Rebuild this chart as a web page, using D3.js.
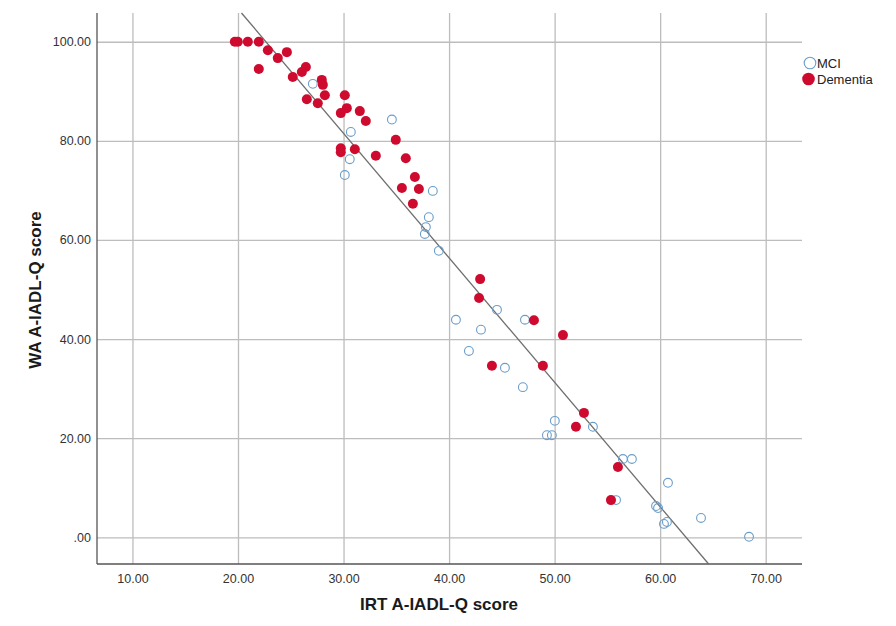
<!DOCTYPE html>
<html>
<head>
<meta charset="utf-8">
<script src="https://cdn.jsdelivr.net/npm/d3@7"></script>
<style>
  html, body { margin: 0; padding: 0; background: #ffffff; }
  svg { display: block; font-family: "Liberation Sans", Arial, sans-serif; }
</style>
</head>
<body>
<svg id="chart" width="896" height="626"></svg>
<script>
// ---------- data ----------
const seriesNames = ["MCI", "Dementia"];

const mciIRT = [27.09, 34.58, 30.69, 30.59, 30.12, 38.46, 38.08, 37.80, 37.70, 39.03,
  44.54, 40.65, 47.19, 43.02, 41.88, 45.29, 46.99, 50.02, 53.63, 49.27,
  49.74, 56.47, 57.32, 60.74, 55.82, 59.61, 59.80, 60.36, 60.64, 63.87, 68.42];
const mciWA = [91.5, 84.3, 81.8, 76.3, 73.1, 69.9, 64.6, 62.6, 61.2, 57.8,
  45.9, 43.9, 43.9, 41.9, 37.6, 34.2, 30.3, 23.5, 22.3, 20.6,
  20.6, 15.8, 15.8, 11.0, 7.5, 6.3, 5.9, 2.7, 3.1, 3.9, 0.1];

const demIRT = [19.70, 19.98, 20.93, 21.97, 22.83, 23.77, 24.63, 21.97, 26.43, 26.05,
  25.19, 27.94, 28.04, 28.23, 26.52, 27.56, 30.12, 30.31, 29.74, 31.54,
  32.11, 34.95, 29.74, 29.74, 31.07, 33.06, 35.90, 36.76, 35.53, 37.14,
  36.57, 42.94, 42.84, 48.04, 50.79, 44.06, 48.89, 52.78, 52.02, 56.00, 55.34];
const demWA = [100, 100, 100, 100, 98.3, 96.7, 97.9, 94.5, 94.9, 93.9,
  92.9, 92.3, 91.3, 89.2, 88.4, 87.6, 89.2, 86.6, 85.6, 86.0,
  84.0, 80.2, 78.5, 77.7, 78.3, 77.0, 76.5, 72.7, 70.5, 70.3,
  67.3, 52.1, 48.3, 43.8, 40.8, 34.6, 34.6, 25.1, 22.3, 14.2, 7.5];

// fit line: WA = intercept + slope * IRT
const fitCoef = [156.87, -2.512];

const xTicks = [10, 20, 30, 40, 50, 60, 70];
const xTickLabels = ["10.00", "20.00", "30.00", "40.00", "50.00", "60.00", "70.00"];
const yTicks = [0, 20, 40, 60, 80, 100];
const yTickLabels = [".00", "20.00", "40.00", "60.00", "80.00", "100.00"];

const xDomain = [6.64, 73.44];
const yDomain = [-5.39, 105.8];

const xTitle = "IRT A-IADL-Q score";
const yTitle = "WA A-IADL-Q score";

// ---------- drawing ----------
const svg = d3.select("#chart");
const plot = { left: 97, right: 802, top: 13, bottom: 564 };

const x = d3.scaleLinear().domain(xDomain).range([plot.left, plot.right]);
const y = d3.scaleLinear().domain(yDomain).range([plot.bottom, plot.top]);

const gridColor = "#bdbdbd";
const fontFam = "'Liberation Sans', Arial, sans-serif";

// gridlines
svg.append("g")
  .attr("transform", `translate(0,${plot.bottom})`)
  .call(d3.axisBottom(x).tickValues(xTicks).tickSize(-(plot.bottom - plot.top)).tickFormat(""))
  .call(g => g.select(".domain").remove())
  .call(g => g.selectAll("line").attr("stroke", gridColor).attr("stroke-width", 1.3));

svg.append("g")
  .attr("transform", `translate(${plot.left},0)`)
  .call(d3.axisLeft(y).tickValues(yTicks).tickSize(-(plot.right - plot.left)).tickFormat(""))
  .call(g => g.select(".domain").remove())
  .call(g => g.selectAll("line").attr("stroke", gridColor).attr("stroke-width", 1.3));

// axis labels
svg.append("g")
  .attr("transform", `translate(0,${plot.bottom})`)
  .call(d3.axisBottom(x).tickValues(xTicks).tickSize(0).tickPadding(10)
    .tickFormat((d, i) => xTickLabels[i]))
  .call(g => g.select(".domain").remove())
  .call(g => g.selectAll("text").attr("font-size", 12.5).attr("fill", "#333")
    .attr("font-family", fontFam));

svg.append("g")
  .attr("transform", `translate(${plot.left},0)`)
  .call(d3.axisLeft(y).tickValues(yTicks).tickSize(0).tickPadding(6)
    .tickFormat((d, i) => yTickLabels[i]))
  .call(g => g.select(".domain").remove())
  .call(g => g.selectAll("text").attr("font-size", 12.5).attr("fill", "#333")
    .attr("font-family", fontFam));

// axis lines (left & bottom)
svg.append("line")
  .attr("x1", plot.left).attr("x2", plot.left)
  .attr("y1", plot.top).attr("y2", plot.bottom)
  .attr("stroke", "#555").attr("stroke-width", 1.3);
svg.append("line")
  .attr("x1", plot.left).attr("x2", plot.right)
  .attr("y1", plot.bottom).attr("y2", plot.bottom)
  .attr("stroke", "#555").attr("stroke-width", 1.3);

// fit line, clipped to plot area
const xAtTop = (yDomain[1] - fitCoef[0]) / fitCoef[1];
const xAtBottom = (yDomain[0] - fitCoef[0]) / fitCoef[1];
const fitPts = [xAtTop, xAtBottom].map(v => [v, fitCoef[0] + fitCoef[1] * v]);
svg.append("path")
  .attr("d", d3.line().x(d => x(d[0])).y(d => y(d[1]))(fitPts))
  .attr("fill", "none").attr("stroke", "#6e6e6e").attr("stroke-width", 1.3);

const blue = "#6a9dcb";
const red = "#cf0a2f";

// MCI (open circles)
svg.append("g").selectAll("circle")
  .data(d3.zip(mciIRT, mciWA))
  .join("circle")
  .attr("cx", d => x(d[0])).attr("cy", d => y(d[1]))
  .attr("r", 4.4)
  .attr("fill", "none").attr("stroke", blue).attr("stroke-width", 1.1);

// Dementia (filled circles)
svg.append("g").selectAll("circle")
  .data(d3.zip(demIRT, demWA))
  .join("circle")
  .attr("cx", d => x(d[0])).attr("cy", d => y(d[1]))
  .attr("r", 5)
  .attr("fill", red).attr("stroke", "none");

// axis titles
svg.append("text")
  .attr("x", 439).attr("y", 610)
  .attr("text-anchor", "middle")
  .attr("font-size", 17).attr("font-weight", "bold").attr("fill", "#1a1a1a")
  .text(xTitle);

svg.append("text")
  .attr("transform", `translate(41,290) rotate(-90)`)
  .attr("text-anchor", "middle")
  .attr("font-size", 17).attr("font-weight", "bold").attr("fill", "#1a1a1a")
  .text(yTitle);

// legend
const legend = svg.append("g");
const legendItems = [
  { name: seriesNames[0], cx: 810, cy: 63, r: 5.8, fill: "none", stroke: blue },
  { name: seriesNames[1], cx: 808.5, cy: 79, r: 6.3, fill: red, stroke: "none" }
];
legendItems.forEach(it => {
  legend.append("circle")
    .attr("cx", it.cx).attr("cy", it.cy).attr("r", it.r)
    .attr("fill", it.fill).attr("stroke", it.stroke).attr("stroke-width", 1.1);
  legend.append("text")
    .attr("x", 817).attr("y", it.cy).attr("dy", "0.36em")
    .attr("font-size", 13).attr("fill", "#222")
    .text(it.name);
});
</script>
</body>
</html>
